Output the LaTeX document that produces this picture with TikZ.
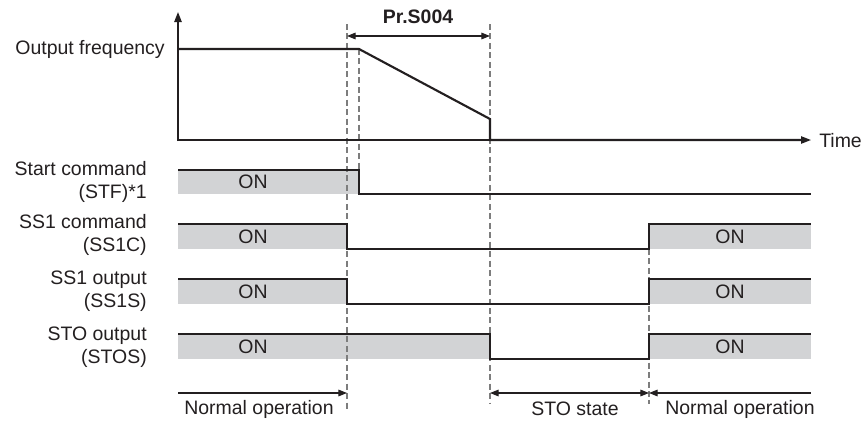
\documentclass[tikz,border=0pt]{standalone}
\usepackage{fontspec}
\setmainfont{Liberation Sans}
\usetikzlibrary{arrows.meta}
\definecolor{inkGray}{RGB}{35,31,32}
\definecolor{onGray}{RGB}{210,211,213}
\definecolor{guideGray}{RGB}{125,125,125}
\tikzset{
	Sig/.style={draw=inkGray, line width=1.1pt},
	Freq/.style={draw=inkGray, line width=1.6pt, line join=miter},
	Guide/.style={draw=guideGray, line width=0.9pt, dash pattern=on 4.5pt off 2.6pt},
	OnFill/.style={fill=onGray, draw=none},
	Span/.style={draw=inkGray, line width=0.8pt},
	Txt/.style={font=\fontsize{14.6}{17.5}\selectfont, text=inkGray, inner sep=0pt},
	BigTip/.style={-{Triangle[length=7.5pt,width=5.5pt]}},
	SmallTip/.tip={Triangle[length=6.5pt,width=5pt]}
}

\begin{document}
\begin{tikzpicture}[x=0.75pt,y=0.75pt,yscale=-1,xscale=1]
\useasboundingbox (0,0) rectangle (864,421);

%on areas
\fill [OnFill] (178,170) rectangle (359,194);
\fill [OnFill] (178,224) rectangle (347,249);
\fill [OnFill] (649,224) rectangle (811,249);
\fill [OnFill] (178,279) rectangle (347,304);
\fill [OnFill] (649,279) rectangle (811,304);
\fill [OnFill] (178,334) rectangle (490,359);
\fill [OnFill] (649,334) rectangle (811,359);

%guide lines
\draw [Guide] (347,24) -- (347,410);
\draw [Guide] (359,49) -- (359,170);
\draw [Guide] (490,24) -- (490,404);
\draw [Guide] (649,249) -- (649,404);

%axes
\draw [Sig, BigTip] (178,141) -- (178,12);
\draw [Sig, BigTip] (178,140) -- (811,140);
\draw [Freq] (178,49) -- (359,49) -- (490,119) -- (490,140) -- (803,140);

%signals
\draw [Sig] (178,170) -- (359,170) -- (359,194) -- (811,194);
\draw [Sig] (178,224) -- (347,224) -- (347,249) -- (649,249) -- (649,224) -- (811,224);
\draw [Sig] (178,279) -- (347,279) -- (347,304) -- (649,304) -- (649,279) -- (811,279);
\draw [Sig] (178,334) -- (490,334) -- (490,359) -- (649,359) -- (649,334) -- (811,334);

%spans
\draw [Span, SmallTip-SmallTip] (347,36) -- (490,36);
\draw [Span, -SmallTip] (178,393) -- (347,393);
\draw [Span, SmallTip-SmallTip] (490,393) -- (649,393);
\draw [Span, SmallTip-] (649,393) -- (811,393);

%labels
\node [Txt, font=\fontsize{14.6}{17.5}\selectfont\bfseries] (prs) at (418,17) {Pr.S004};
\node [Txt, anchor=east] (freq) at (165,49) {Output frequency};
\node [Txt, anchor=west] (time) at (819,141) {Time};
\node [Txt, anchor=east, align=right] (stf) at (147,182) {Start command\\(STF)*1};
\node [Txt, anchor=east, align=right] (ss1c) at (147,235) {SS1 command\\(SS1C)};
\node [Txt, anchor=east, align=right] (ss1s) at (147,291) {SS1 output\\(SS1S)};
\node [Txt, anchor=east, align=right] (stos) at (147,347) {STO output\\(STOS)};

\node [Txt] (on1) at (253,182) {ON};
\node [Txt] (on2) at (253,237) {ON};
\node [Txt] (on3) at (730,237) {ON};
\node [Txt] (on4) at (253,292) {ON};
\node [Txt] (on5) at (730,292) {ON};
\node [Txt] (on6) at (253,347) {ON};
\node [Txt] (on7) at (730,347) {ON};

\node [Txt] (norm1) at (259,409) {Normal operation};
\node [Txt] (sto) at (575,409) {STO state};
\node [Txt] (norm2) at (740,409) {Normal operation};

\end{tikzpicture}
\end{document}
